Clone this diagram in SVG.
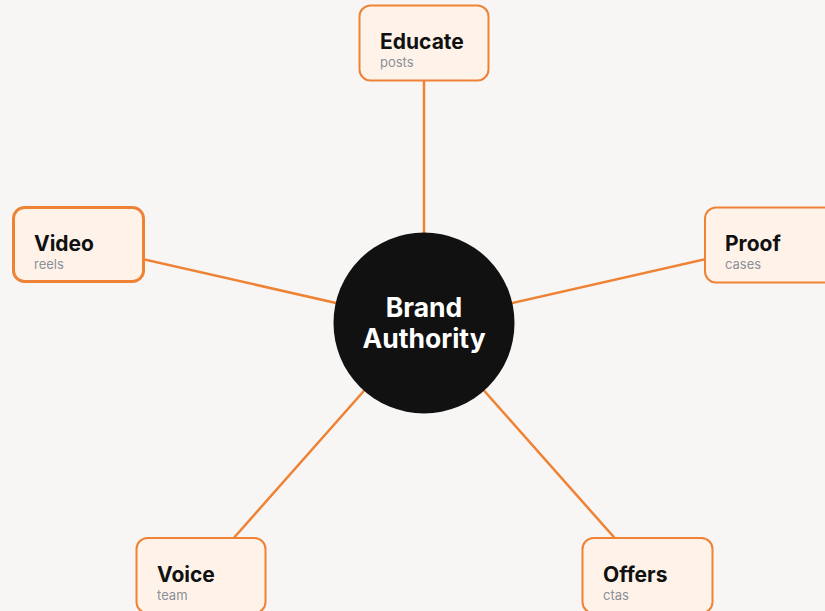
<svg xmlns="http://www.w3.org/2000/svg" width="825" height="611" viewBox="0 0 825 611">
<style>
.bg{fill:#F7F6F4}
.conn line{stroke:#EE8235;stroke-width:2.5;stroke-linecap:round}
.box{fill:#FFF3E9;stroke:#EE8235;stroke-width:2}
.title{font-family:Inter,"Liberation Sans",sans-serif;font-weight:700;font-size:21px;fill:#111111}
.sub{font-family:Inter,"Liberation Sans",sans-serif;font-size:13px;fill:#8A8F99}
.hub{font-family:Inter,"Liberation Sans",sans-serif;font-weight:700;font-size:26.5px;fill:#FFFFFF;text-anchor:middle}
</style>
<rect class="bg" x="0" y="0" width="825" height="611"/>
<g id="connectors" class="conn">
<line x1="424" y1="323" x2="424" y2="43"/>
<line x1="424" y1="323" x2="78.5" y2="244.5"/>
<line x1="424" y1="323" x2="770" y2="244.5"/>
<line x1="424" y1="323" x2="201" y2="575"/>
<line x1="424" y1="323" x2="647.5" y2="575"/>
</g>
<g id="educate">
<rect class="box" x="359.5" y="5.5" width="129" height="75" rx="11"/>
<text class="title" x="380" y="49">Educate</text>
<text class="sub" x="380" y="67">posts</text>
</g>
<g id="video">
<rect class="box" x="13.5" y="207.5" width="130" height="74" rx="11" style="stroke-width:3"/>
<text class="title" x="34" y="251">Video</text>
<text class="sub" x="34" y="269">reels</text>
</g>
<g id="proof">
<rect class="box" x="705" y="207.5" width="130" height="75" rx="11"/>
<text class="title" x="725" y="251">Proof</text>
<text class="sub" x="725" y="269">cases</text>
</g>
<g id="voice">
<rect class="box" x="136.5" y="538" width="129" height="75" rx="11"/>
<text class="title" x="157" y="582">Voice</text>
<text class="sub" x="157" y="600">team</text>
</g>
<g id="offers">
<rect class="box" x="582.5" y="538" width="130" height="75" rx="11"/>
<text class="title" x="603" y="582">Offers</text>
<text class="sub" x="603" y="600">ctas</text>
</g>
<g id="hub">
<circle cx="424" cy="323" r="90.5" fill="#111111"/>
<text class="hub" x="424" y="317">Brand</text>
<text class="hub" x="424" y="348">Authority</text>
</g>
</svg>
